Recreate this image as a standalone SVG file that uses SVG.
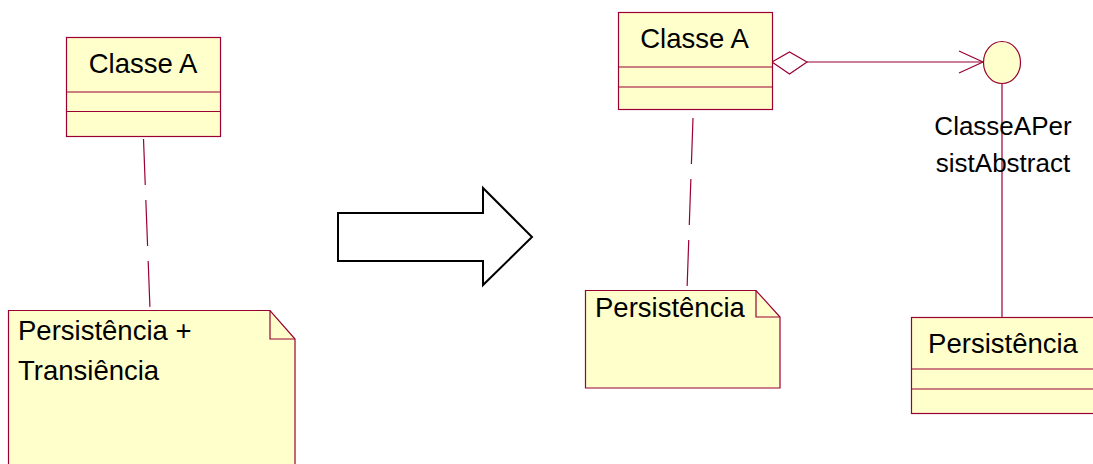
<svg xmlns="http://www.w3.org/2000/svg" width="1093" height="464" viewBox="0 0 1093 464">
  <style>
    .box { fill: #FFFFCC; stroke: #990033; stroke-width: 1.2; }
    .ln { fill: none; stroke: #990033; stroke-width: 1.2; }
    .dash { fill: none; stroke: #990033; stroke-width: 1.2; stroke-dasharray: 46 15; }
    .t { font-family: "Liberation Sans", Arial, sans-serif; font-size: 27.5px; fill: #000; }
    .lbl { font-family: "Liberation Sans", Arial, sans-serif; font-size: 26px; fill: #000; }
    .mid { text-anchor: middle; }
  </style>
  <defs>
    <marker id="openArrow" markerUnits="userSpaceOnUse" markerWidth="30" markerHeight="30" refX="25" refY="12" orient="auto">
      <path d="M1,1 L25,12 L1,23" fill="none" stroke="#990033" stroke-width="1.2"/>
    </marker>
  </defs>

  <rect width="1093" height="464" fill="#FFFFFF"/>

  <!-- connectors -->
  <g id="connectors">
    <line class="dash" x1="143.5" y1="139" x2="150" y2="309"/>
    <line class="dash" x1="693" y1="118" x2="687" y2="290"/>
    <polygon class="ln" points="772,62 789.5,52 807,62 789.5,74" fill="#FFFFFF"/>
    <line class="ln" x1="807" y1="62" x2="983" y2="62" marker-end="url(#openArrow)"/>
    <line class="ln" x1="1002" y1="84" x2="1002" y2="317"/>
  </g>

  <!-- left: Classe A -->
  <g id="classA-left">
    <rect class="box" x="66.5" y="37.5" width="154" height="99"/>
    <line class="ln" x1="66.5" y1="92" x2="220.5" y2="92"/>
    <line class="ln" x1="66.5" y1="111.5" x2="220.5" y2="111.5"/>
    <text class="t mid" x="143" y="73">Classe A</text>
  </g>

  <!-- left note -->
  <g id="note-left">
    <path class="box" d="M8.5,310.5 L270,310.5 L295,339 L295,470 L8.5,470 Z"/>
    <path class="ln" d="M270,310.5 L270,339 L295,339"/>
    <text class="t" x="18" y="340">Persistência +</text>
    <text class="t" x="18" y="380">Transiência</text>
  </g>

  <!-- transformation arrow -->
  <g id="big-arrow">
    <polygon points="338,213 483,213 483,188 532,237 483,285 483,261 338,261" fill="#FFFFFF" stroke="#000000" stroke-width="2"/>
  </g>

  <!-- right: Classe A -->
  <g id="classA-right">
    <rect class="box" x="618.5" y="12.5" width="154" height="97"/>
    <line class="ln" x1="618.5" y1="67" x2="772.5" y2="67"/>
    <line class="ln" x1="618.5" y1="87" x2="772.5" y2="87"/>
    <text class="t mid" x="694.5" y="48">Classe A</text>
  </g>

  <!-- interface -->
  <g id="iface">
    <ellipse class="box" cx="1002" cy="62.5" rx="18.5" ry="21"/>
    <text class="lbl mid" x="1003" y="135">ClasseAPer</text>
    <text class="lbl mid" x="1003" y="172">sistAbstract</text>
  </g>

  <!-- middle note -->
  <g id="note-mid">
    <path class="box" d="M585.5,290.5 L756,290.5 L780,317 L780,388 L585.5,388 Z"/>
    <path class="ln" d="M756,290.5 L756,317 L780,317"/>
    <text class="t" x="595" y="317">Persistência</text>
  </g>

  <!-- right: Persistência class -->
  <g id="persist-class">
    <rect class="box" x="911.5" y="317.5" width="184" height="96"/>
    <line class="ln" x1="911.5" y1="369" x2="1095.5" y2="369"/>
    <line class="ln" x1="911.5" y1="389" x2="1095.5" y2="389"/>
    <text class="t mid" x="1003" y="353">Persistência</text>
  </g>
</svg>
